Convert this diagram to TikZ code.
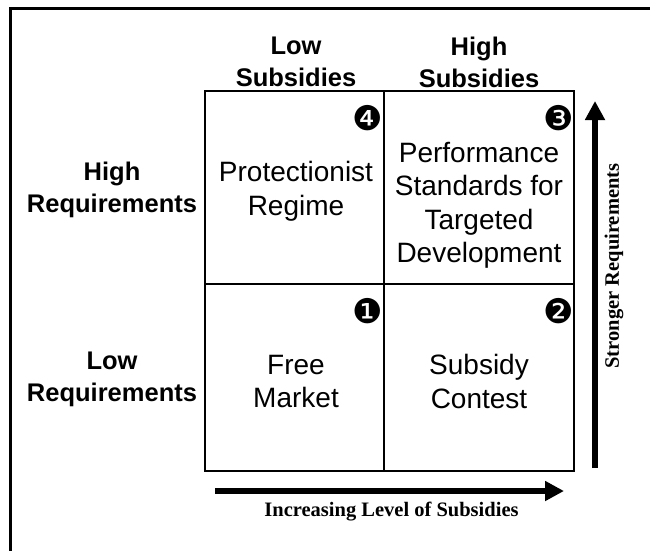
\documentclass[tikz,border=0pt]{standalone}
\usepackage{fontspec}
\setmainfont{Liberation Sans}
\newfontfamily\timesfont{Liberation Serif}
\newfontfamily\dingfont{DejaVu Sans}
\usetikzlibrary{arrows.meta}

\tikzset{
  cell/.style={align=center, inner sep=0pt, font=\fontsize{28}{33.5}\selectfont},
  head/.style={align=center, inner sep=0pt, font=\bfseries\fontsize{25.5}{32}\selectfont},
  badge/.style={inner sep=0pt, font=\dingfont\fontsize{34}{34}\selectfont},
  axislabel/.style={inner sep=0pt, font=\timesfont\bfseries\fontsize{20.5}{24}\selectfont},
  bigarrow/.style={line width=5.5pt, -{Triangle[length=19pt,width=19pt]}},
  gridline/.style={line width=1.2pt}
}

\begin{document}
\begin{tikzpicture}[x=1pt,y=-1pt]
    \useasboundingbox (0,0) rectangle (650,550);
    \draw[line width=3pt] (10,560)--(10,8)--(660,8);

    % the four quadrants
    \draw[gridline] (205,91) rectangle (574,471);
    \draw[gridline] (384,91)--(384,471);
    \draw[gridline] (205,284)--(574,284);

    \node[head] (lowsub) at (296,62) {Low\\Subsidies};
    \node[head] (highsub) at (479,62) {High\\Subsidies};
    \node[head] (highreq) at (112,189.5) {High\\Requirements};
    \node[head] (lowreq) at (112,379.5) {Low\\Requirements};

    \node[cell] (protect) at (296,191.5) {Protectionist\\Regime};
    \node[cell] (perform) at (479,205.5) {Performance\\Standards for\\Targeted\\Development};
    \node[cell] (free) at (296,381.5) {Free\\Market};
    \node[cell] (contest) at (479,381.5) {Subsidy\\Contest};

    \node[badge] (four) at (367.5,118) {❹};
    \node[badge] (three) at (559,118) {❸};
    \node[badge] (one) at (367.5,311) {❶};
    \node[badge] (two) at (559,311) {❷};

    % axes
    \coordinate (hstart) at (215,491);
    \coordinate (hend) at (564,491);
    \draw[bigarrow] (hstart)--(hend);
    \node[axislabel] (hlabel) at (391.5,512) {Increasing Level of Subsidies};

    \coordinate (vstart) at (595,468);
    \coordinate (vend) at (595,101);
    \draw[bigarrow] (vstart)--(vend);
    \node[axislabel,rotate=90] (vlabel) at (614,266) {Stronger Requirements};
\end{tikzpicture}
\end{document}
